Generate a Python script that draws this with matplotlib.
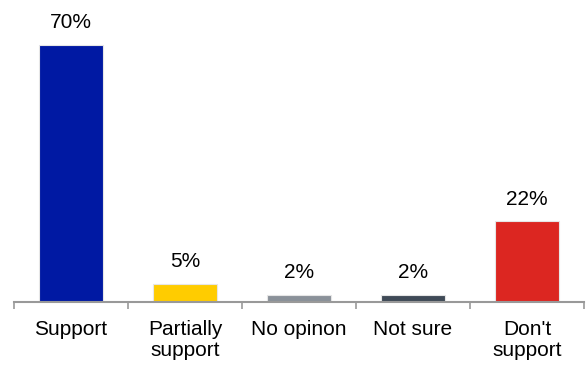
import matplotlib.pyplot as plt

categories = ['Support', 'Partially\nsupport', 'No opinon', 'Not sure', "Don't\nsupport"]
values = [70, 5, 2, 2, 22]
colors = ['#0019A3', '#FFCC00', '#8A9199', '#3F4A57', '#DC2621']

plt.rcParams['font.family'] = ['Liberation Sans', 'DejaVu Sans']

fig = plt.figure(figsize=(5.87, 3.65), dpi=100)
ax = fig.add_axes([14 / 587, 63 / 365, 570 / 587, 294 / 365])

x = range(len(categories))
bars = ax.bar(x, values, width=0.56, color=colors, edgecolor='#e6e6e6', linewidth=0.8)
for b, v in zip(bars, values):
    ax.annotate(f'{v}%', (b.get_x() + b.get_width() / 2, v), xytext=(0, 9),
                textcoords='offset points', ha='center', va='bottom', fontsize=15)

ax.set_xlim(-0.5, len(categories) - 0.5)
ax.set_ylim(0, 80)
ax.set_yticks([])
for s in ['top', 'right', 'left']:
    ax.spines[s].set_visible(False)
ax.spines['bottom'].set_color('#999999')
ax.spines['bottom'].set_linewidth(1.5)

ax.set_xticks([i - 0.5 for i in range(len(categories) + 1)])
ax.set_xticklabels([])
ax.tick_params(axis='x', which='major', length=5, width=1.2, color='#999999')
ax.set_xticks(list(x), minor=True)
ax.set_xticklabels(categories, minor=True, fontsize=15, linespacing=1.15)
ax.tick_params(axis='x', which='minor', length=0, pad=13)

plt.savefig('out.png')
